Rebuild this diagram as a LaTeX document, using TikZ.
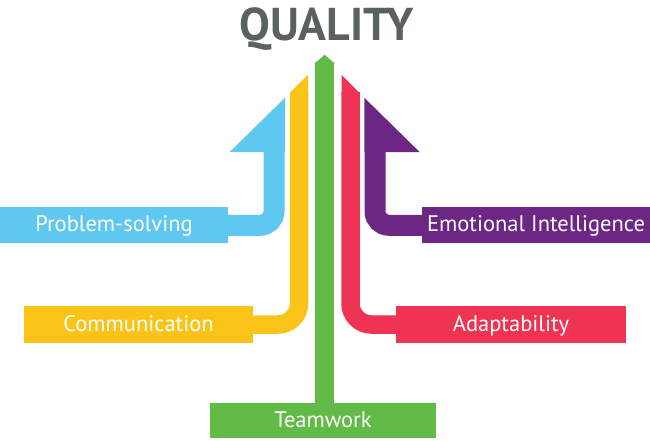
\documentclass[tikz,border=0pt]{standalone}
\usepackage{fontspec}
\setmainfont{PT Sans}
\definecolor{cblue}{RGB}{94,200,240}
\definecolor{cyellow}{RGB}{249,195,24}
\definecolor{cgreen}{RGB}{98,187,70}
\definecolor{cred}{RGB}{238,52,82}
\definecolor{cpurple}{RGB}{108,38,132}
\definecolor{ctitle}{RGB}{90,97,95}
\begin{document}
\begin{tikzpicture}[x=1pt,y=-1pt,
  lbox/.style={rectangle,inner sep=0pt,text=white,font=\fontsize{22.5}{26}\selectfont,text height=16pt,text depth=3pt},
  bar/.style={line cap=butt}]
\useasboundingbox (0,0) rectangle (650,440);
% boxes
\node[lbox,fill=cblue,minimum width=228pt,minimum height=36pt] (ps) at (114,225.3) {Problem-solving};
\node[lbox,fill=cyellow,minimum width=229pt,minimum height=37pt] (comm) at (138.5,324.5) {Communication};
\node[lbox,fill=cpurple,minimum width=228pt,minimum height=36pt] (ei) at (536,225.3) {Emotional Intelligence};
\node[lbox,fill=cred,minimum width=230pt,minimum height=37pt] (adapt) at (511,324.5) {Adaptability};
\node[lbox,fill=cgreen,minimum width=226pt,minimum height=35pt] (team) at (323,420.5) {Teamwork};
\node[text=ctitle,font=\bfseries\fontsize{46}{50}\selectfont,anchor=base,inner sep=0pt] (title) at (326.5,40) {QUALITY};
% top coordinates
\coordinate (bluetop) at (274,151);
\coordinate (yeltop) at (299,92);
\coordinate (greentop) at (324.6,62);
\coordinate (redtop) at (350.5,92);
\coordinate (purtop) at (375,151);
% connectors
\draw[bar,cblue,line width=21pt,rounded corners=14pt] (ps.east) -| (bluetop);
\fill[cblue] (230,151.7) -- (285,97.7) -- (285,152) -- (230,152) -- cycle;
\draw[bar,cyellow,line width=18.5pt,rounded corners=21pt] (comm.east) -| (yeltop);
\fill[cyellow] (290,92.7) -- (308,74.7) -- (308,94) -- (290,94) -- cycle;
\draw[bar,cgreen,line width=19.3pt] (team.north -| greentop) -- (greentop);
\fill[cgreen] (315,63.3) -- (324.6,54.7) -- (334.3,63.3) -- (334.3,64) -- (315,64) -- cycle;
\draw[bar,cred,line width=18.5pt,rounded corners=21pt] (adapt.west) -| (redtop);
\fill[cred] (341.5,75) -- (359.5,93) -- (359.5,94) -- (341.5,94) -- cycle;
\draw[bar,cpurple,line width=21pt,rounded corners=14pt] (ei.west) -| (purtop);
\fill[cpurple] (364.3,97.7) -- (419.3,151.7) -- (419.3,152) -- (364.3,152) -- cycle;
\end{tikzpicture}
\end{document}
